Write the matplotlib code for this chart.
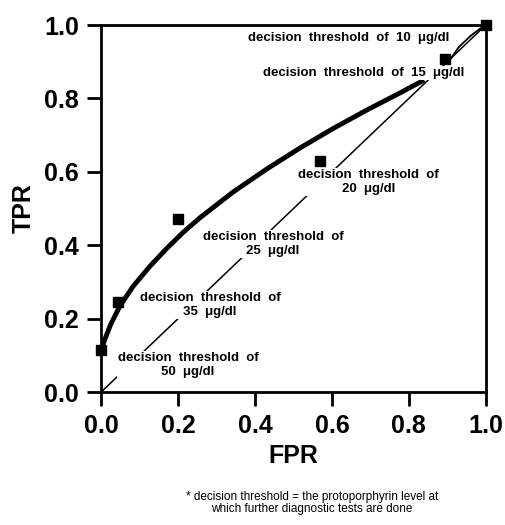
import matplotlib.pyplot as plt

# puntos de umbral (FPR, TPR)
fpr_pts = [0.0, 0.044, 0.20, 0.57, 0.895, 1.0]
tpr_pts = [0.115, 0.245, 0.472, 0.630, 0.907, 1.0]
umbrales = [50, 35, 25, 20, 15, 10]

# curva ROC
curva_x = [0.0, 0.01, 0.025, 0.049, 0.083, 0.127, 0.171, 0.213, 0.257, 0.343, 0.431, 0.517, 0.603, 0.69, 0.777, 0.816, 0.84]
curva_y = [0.115, 0.145, 0.185, 0.235, 0.288, 0.343, 0.392, 0.435, 0.475, 0.545, 0.608, 0.665, 0.718, 0.768, 0.815, 0.837, 0.85]
# tramo fino arriba a la derecha
tramo_x = [0.90, 0.93, 0.96, 0.985, 1.0]
tramo_y = [0.895, 0.94, 0.97, 0.99, 1.0]

ticks = [0.0, 0.2, 0.4, 0.6, 0.8, 1.0]

# posiciones de las etiquetas (x, y, alineacion)
etiq_pos = {
    50: (0.226, 0.074, 'center'),
    35: (0.283, 0.237, 'center'),
    25: (0.447, 0.403, 'center'),
    20: (0.696, 0.572, 'center'),
    15: (0.42, 0.869, 'left'),
    10: (0.382, 0.965, 'left'),
}

fuente = 'Liberation Sans'

fig = plt.figure(figsize=(5.06, 5.25), dpi=100)
ax = fig.add_axes([0.2, 0.2533, 0.76, 0.699])

ax.plot([0, 1], [0, 1], color='black', lw=1.1, zorder=1)
ax.plot(curva_x, curva_y, color='black', lw=3.5, solid_capstyle='butt', zorder=2)
ax.plot(tramo_x, tramo_y, color='black', lw=1.3, zorder=2)
ax.plot(fpr_pts, tpr_pts, 's', color='black', markersize=7, zorder=4, clip_on=False)

for u in umbrales:
    x, y, ha = etiq_pos[u]
    if ha == 'center':
        txt = 'decision  threshold  of\n%d  \u03bcg/dl' % u
    else:
        txt = 'decision  threshold  of  %d  \u03bcg/dl' % u
    ax.text(x, y, txt, ha=ha, va='center', multialignment='center',
            fontsize=9.5, fontweight='bold', family=fuente, linespacing=1.3,
            bbox=dict(facecolor='white', edgecolor='none', pad=0.5), zorder=3)

ax.set_xlim(0, 1)
ax.set_ylim(0, 1)
ax.set_xticks(ticks)
ax.set_yticks(ticks)
ax.set_xticklabels(['%.1f' % t for t in ticks], fontsize=18, fontweight='bold', family=fuente)
ax.set_yticklabels(['%.1f' % t for t in ticks], fontsize=18, fontweight='bold', family=fuente)
ax.tick_params(direction='out', length=10, width=2, pad=6)
for s in ax.spines.values():
    s.set_linewidth(2)

ax.set_xlabel('FPR', fontsize=18, fontweight='bold', family=fuente, labelpad=4)
ax.set_ylabel('TPR', fontsize=18, fontweight='bold', family=fuente, labelpad=6)

fig.text(0.617, 0.042, '* decision threshold = the protoporphyrin level at\nwhich further diagnostic tests are done',
         ha='center', va='center', fontsize=8.5, family=fuente, linespacing=1.0)

plt.savefig('out.png', dpi=100)
